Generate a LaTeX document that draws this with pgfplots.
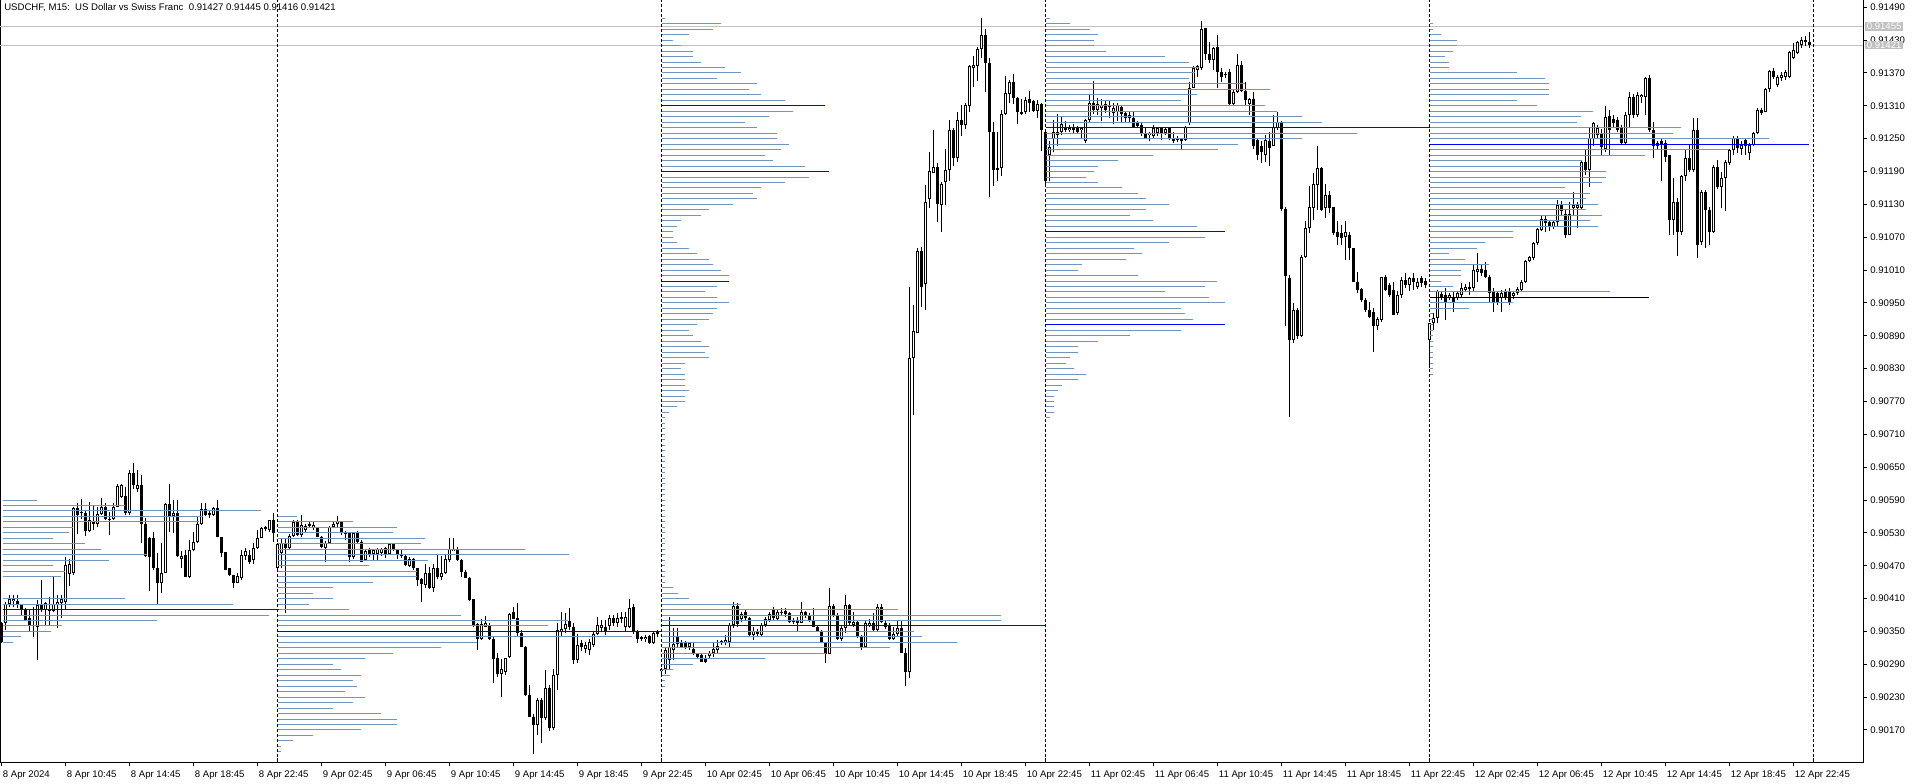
\documentclass[border=0pt]{standalone}
\usepackage{pgfplots}
\pgfplotsset{compat=1.18}
\usepackage{pgfplotstable}
\usepackage{fontspec}
\setmainfont{Liberation Sans}
\definecolor{vp}{RGB}{112,148,192}
\definecolor{gl}{RGB}{192,192,192}

\pgfplotstableread{
i O H L C
0 90365 90368 90328 90331
1 90365 90404 90353 90400
2 90400 90417 90395 90409
3 90406 90417 90395 90409
4 90406 90417 90392 90398
5 90398 90401 90380 90390
6 90390 90392 90371 90371
7 90374 90389 90350 90360
8 90360 90395 90340 90362
9 90359 90407 90298 90398
10 90398 90444 90386 90390
11 90389 90404 90360 90402
12 90389 90413 90362 90388
13 90388 90450 90386 90400
14 90400 90417 90356 90404
15 90402 90417 90374 90410
16 90404 90486 90389 90471
17 90455 90483 90433 90474
18 90456 90578 90453 90575
19 90575 90584 90528 90563
20 90569 90591 90556 90566
21 90566 90572 90525 90534
22 90534 90587 90532 90553
23 90552 90581 90535 90547
24 90547 90578 90541 90564
25 90564 90593 90563 90578
26 90577 90584 90553 90555
27 90556 90569 90526 90553
28 90555 90584 90553 90577
29 90577 90619 90577 90615
30 90596 90620 90593 90617
31 90597 90614 90562 90566
32 90566 90645 90562 90640
33 90640 90658 90611 90617
34 90611 90645 90605 90617
35 90617 90636 90511 90547
36 90547 90558 90486 90488
37 90520 90523 90424 90486
38 90520 90532 90462 90465
39 90465 90494 90401 90438
40 90438 90511 90420 90457
41 90457 90584 90456 90582
42 90582 90619 90532 90561
43 90561 90590 90530 90567
44 90567 90590 90486 90488
45 90482 90497 90465 90488
46 90489 90499 90449 90450
47 90450 90517 90447 90499
48 90499 90532 90496 90514
49 90514 90560 90512 90546
50 90546 90585 90544 90573
51 90573 90585 90560 90563
52 90567 90572 90557 90563
53 90563 90578 90560 90575
54 90575 90590 90522 90523
55 90523 90523 90486 90494
56 90495 90495 90462 90463
57 90465 90465 90451 90453
58 90453 90453 90429 90439
59 90439 90456 90439 90451
60 90447 90499 90444 90489
61 90488 90502 90480 90496
62 90490 90499 90473 90477
63 90480 90511 90474 90502
64 90502 90535 90500 90520
65 90520 90541 90520 90539
66 90541 90542 90534 90537
67 90535 90553 90532 90553
68 90553 90566 90514 90529
69 90466 90511 90462 90509
70 90493 90520 90465 90511
71 90511 90520 90384 90502
72 90502 90528 90499 90524
73 90524 90553 90523 90550
74 90550 90553 90524 90526
75 90526 90563 90523 90544
76 90535 90547 90532 90542
77 90547 90551 90541 90542
78 90538 90550 90535 90544
79 90538 90541 90522 90523
80 90523 90524 90502 90505
81 90503 90515 90477 90511
82 90511 90542 90510 90541
83 90541 90550 90538 90546
84 90546 90560 90541 90551
85 90551 90552 90526 90529
86 90532 90533 90517 90528
87 90530 90532 90476 90486
88 90486 90532 90483 90530
89 90530 90533 90510 90514
90 90514 90517 90476 90477
91 90480 90499 90479 90497
92 90499 90502 90486 90490
93 90491 90501 90480 90499
94 90491 90502 90480 90500
95 90493 90503 90488 90501
96 90502 90504 90485 90491
97 90491 90511 90490 90510
98 90510 90511 90497 90500
99 90500 90501 90482 90491
100 90492 90499 90485 90488
101 90488 90490 90469 90471
102 90470 90486 90468 90483
103 90483 90485 90463 90465
104 90465 90466 90433 90444
105 90445 90447 90404 90436
106 90435 90474 90429 90456
107 90456 90468 90427 90429
108 90430 90474 90422 90465
109 90465 90489 90446 90449
110 90449 90488 90444 90456
111 90456 90489 90455 90483
112 90480 90520 90477 90500
113 90497 90520 90496 90500
114 90500 90504 90479 90480
115 90480 90482 90450 90459
116 90459 90462 90447 90447
117 90447 90449 90406 90407
118 90409 90410 90359 90360
119 90363 90365 90316 90336
120 90336 90372 90334 90363
121 90359 90378 90359 90366
122 90360 90365 90334 90336
123 90337 90339 90255 90299
124 90301 90311 90267 90273
125 90273 90299 90231 90281
126 90276 90302 90270 90301
127 90303 90383 90301 90381
128 90385 90395 90372 90373
129 90374 90402 90340 90347
130 90347 90353 90321 90322
131 90322 90323 90232 90234
132 90233 90252 90193 90194
133 90194 90200 90127 90179
134 90179 90228 90161 90225
135 90225 90228 90146 90191
136 90191 90280 90188 90246
137 90246 90252 90169 90173
138 90173 90281 90170 90270
139 90270 90365 90243 90353
140 90349 90386 90340 90354
141 90354 90383 90347 90363
142 90369 90392 90353 90359
143 90359 90365 90291 90298
144 90298 90346 90292 90326
145 90328 90335 90315 90322
146 90317 90330 90310 90325
147 90316 90337 90307 90331
148 90326 90349 90322 90346
149 90346 90377 90343 90362
150 90356 90370 90350 90362
151 90359 90371 90343 90351
152 90360 90380 90352 90374
153 90374 90380 90360 90365
154 90365 90383 90359 90374
155 90376 90385 90365 90372
156 90359 90386 90350 90377
157 90359 90410 90356 90392
158 90395 90401 90346 90350
159 90350 90353 90328 90337
160 90339 90342 90333 90336
161 90337 90343 90331 90340
162 90341 90343 90327 90328
163 90328 90350 90327 90348
164 90350 90352 90340 90346
165 90277 90283 90273 90281
166 90281 90319 90273 90316
167 90298 90377 90281 90322
168 90316 90356 90298 90327
169 90339 90356 90322 90327
170 90331 90334 90319 90322
171 90329 90333 90318 90322
172 90322 90331 90316 90328
173 90317 90331 90307 90309
174 90309 90311 90301 90304
175 90307 90311 90295 90295
176 90302 90307 90292 90295
177 90305 90314 90301 90311
178 90310 90331 90304 90317
179 90316 90334 90310 90323
180 90332 90335 90325 90329
181 90329 90343 90325 90334
182 90331 90365 90322 90362
183 90362 90404 90356 90397
184 90397 90402 90359 90363
185 90372 90386 90368 90382
186 90386 90390 90370 90374
187 90374 90376 90340 90344
188 90344 90359 90334 90351
189 90351 90355 90342 90346
190 90344 90366 90340 90362
191 90362 90377 90359 90372
192 90371 90386 90368 90382
193 90390 90395 90371 90374
194 90372 90389 90371 90386
195 90386 90392 90378 90383
196 90388 90392 90377 90382
197 90383 90386 90365 90368
198 90371 90374 90364 90367
199 90371 90377 90350 90365
200 90365 90404 90365 90385
201 90385 90388 90375 90378
202 90380 90383 90368 90371
203 90371 90392 90359 90359
204 90359 90361 90349 90351
205 90350 90353 90328 90329
206 90329 90331 90292 90309
207 90309 90429 90309 90396
208 90396 90400 90376 90380
209 90380 90383 90334 90337
210 90337 90360 90333 90356
211 90356 90416 90347 90398
212 90398 90401 90362 90365
213 90362 90386 90359 90368
214 90368 90371 90338 90340
215 90340 90343 90316 90319
216 90321 90371 90319 90365
217 90362 90372 90358 90365
218 90365 90383 90350 90353
219 90353 90400 90350 90395
220 90395 90400 90365 90368
221 90365 90370 90355 90359
222 90362 90365 90334 90337
223 90337 90359 90334 90346
224 90346 90371 90340 90356
225 90356 90371 90310 90311
226 90311 90319 90250 90276
227 90276 90980 90265 90849
228 90849 90947 90745 90898
229 90895 91050 90895 91045
230 91045 91053 90943 90980
231 90984 91165 90937 91134
232 91139 91226 91123 91191
233 91187 91266 91187 91198
234 91198 91205 91098 91131
235 91129 91171 91080 91168
236 91170 91231 91128 91193
237 91192 91284 91173 91266
238 91266 91269 91201 91215
239 91215 91298 91208 91284
240 91284 91311 91254 91275
241 91275 91315 91268 91312
242 91310 91385 91299 91382
243 91380 91401 91345 91385
244 91383 91418 91355 91414
245 91414 91471 91397 91439
246 91439 91450 91335 91389
247 91389 91397 91144 91262
248 91262 91281 91164 91192
249 91196 91262 91173 91193
250 91196 91302 91182 91295
251 91295 91365 91293 91333
252 91332 91358 91315 91354
253 91354 91369 91313 91324
254 91324 91327 91276 91298
255 91298 91322 91293 91295
256 91298 91327 91295 91320
257 91322 91337 91299 91316
258 91318 91321 91298 91301
259 91301 91321 91288 91313
260 91313 91315 91227 91266
261 91262 91266 91162 91172
262 91220 91245 91172 91234
263 91250 91284 91225 91262
264 91262 91295 91236 91256
265 91263 91290 91256 91276
266 91270 91282 91262 91266
267 91266 91275 91262 91270
268 91270 91276 91260 91266
269 91269 91273 91258 91263
270 91266 91272 91251 91270
271 91246 91286 91243 91284
272 91284 91330 91281 91315
273 91315 91355 91295 91302
274 91302 91324 91293 91313
275 91306 91323 91282 91312
276 91313 91321 91296 91302
277 91311 91319 91287 91307
278 91296 91316 91276 91306
279 91298 91315 91282 91312
280 91307 91312 91281 91295
281 91296 91301 91281 91288
282 91288 91298 91278 91293
283 91288 91299 91269 91272
284 91280 91282 91269 91274
285 91275 91278 91254 91258
286 91260 91269 91250 91252
287 91257 91262 91245 91260
288 91254 91275 91250 91270
289 91260 91272 91255 91269
290 91270 91270 91248 91260
291 91260 91272 91256 91268
292 91269 91270 91248 91251
293 91252 91263 91242 91245
294 91251 91254 91244 91248
295 91252 91252 91229 91246
296 91248 91273 91246 91272
297 91278 91354 91275 91343
298 91343 91382 91342 91379
299 91376 91385 91363 91382
300 91379 91465 91376 91450
301 91452 91453 91394 91404
302 91404 91427 91388 91394
303 91394 91418 91376 91415
304 91418 91439 91342 91372
305 91372 91380 91354 91363
306 91369 91372 91360 91366
307 91372 91378 91312 91313
308 91313 91339 91309 91336
309 91336 91404 91333 91385
310 91385 91391 91336 91337
311 91337 91354 91312 91321
312 91313 91325 91293 91323
313 91323 91336 91232 91236
314 91248 91250 91211 91220
315 91236 91245 91205 91226
316 91220 91257 91208 91248
317 91245 91263 91201 91233
318 91236 91293 91236 91272
319 91269 91298 91266 91281
320 91281 91282 91117 91122
321 91122 91125 90907 91000
322 90995 91001 90741 90882
323 90882 90949 90876 90937
324 90937 90940 90885 90889
325 90890 91038 90888 91033
326 91033 91099 91032 91086
327 91086 91163 91077 91125
328 91123 91187 91102 91167
329 91165 91236 91120 91196
330 91196 91199 91117 91120
331 91123 91167 91105 91148
332 91148 91155 91115 91123
333 91126 91126 91074 91077
334 91079 91099 91056 91071
335 91077 91092 91056 91069
336 91071 91099 91029 91080
337 91074 91080 91029 91050
338 91050 91050 90989 90989
339 90989 91007 90968 90974
340 90976 90977 90952 90956
341 90956 90959 90934 90937
342 90937 90952 90922 90925
343 90934 90940 90861 90907
344 90907 90925 90900 90921
345 90919 90998 90916 90998
346 90998 91001 90971 90974
347 90983 90987 90960 90965
348 90974 90989 90928 90928
349 90931 90971 90928 90965
350 90965 90998 90959 90992
351 90992 91004 90977 90983
352 90983 90998 90971 90995
353 90995 91004 90974 90989
354 90980 90995 90975 90989
355 90995 91000 90980 90986
356 90990 90996 90978 90983
357 90882 90913 90831 90913
358 90913 90931 90901 90922
359 90922 90974 90913 90971
360 90966 90971 90955 90959
361 90965 90977 90919 90952
362 90959 90968 90955 90965
363 90959 90971 90934 90951
364 90959 90972 90955 90968
365 90965 90986 90959 90977
366 90974 90984 90970 90980
367 90980 90989 90965 90976
368 90977 91022 90971 91010
369 91007 91041 90989 91012
370 91012 91020 91000 91004
371 91010 91025 90995 90998
372 90998 91001 90952 90968
373 90970 90977 90934 90952
374 90968 90972 90946 90951
375 90959 90974 90934 90968
376 90971 90975 90955 90959
377 90971 90977 90946 90951
378 90962 90972 90958 90968
379 90968 90980 90965 90976
380 90974 90992 90971 90989
381 90989 91029 90986 91027
382 91027 91035 91024 91033
383 91032 91062 91029 91059
384 91059 91086 91056 91085
385 91083 91108 91081 91103
386 91103 91111 91079 91096
387 91097 91100 91081 91088
388 91089 91102 91085 91098
389 91097 91138 91089 91129
390 91129 91136 91108 91117
391 91112 91120 91068 91074
392 91074 91135 91074 91112
393 91124 91153 91111 91128
394 91123 91135 91086 91128
395 91123 91211 91120 91208
396 91208 91232 91184 91193
397 91193 91269 91162 91251
398 91249 91281 91236 91278
399 91257 91275 91252 91269
400 91258 91268 91219 91234
401 91232 91309 91226 91290
402 91292 91302 91220 91266
403 91286 91293 91272 91278
404 91284 91290 91262 91266
405 91269 91275 91239 91242
406 91242 91299 91239 91293
407 91293 91336 91269 91327
408 91327 91332 91288 91293
409 91293 91336 91290 91330
410 91327 91331 91315 91330
411 91327 91363 91293 91360
412 91360 91366 91263 91266
413 91266 91281 91214 91236
414 91236 91246 91232 91242
415 91245 91251 91172 91239
416 91242 91248 91208 91217
417 91220 91220 91074 91102
418 91102 91178 91074 91135
419 91135 91141 91035 91080
420 91080 91184 91074 91181
421 91181 91232 91172 91214
422 91214 91239 91190 91193
423 91193 91287 91190 91266
424 91266 91287 91032 91056
425 91062 91156 91056 91153
426 91153 91156 91050 91120
427 91120 91126 91056 91080
428 91080 91202 91077 91199
429 91199 91211 91159 91162
430 91162 91190 91123 91178
431 91178 91211 91117 91208
432 91205 91232 91202 91229
433 91229 91254 91220 91252
434 91251 91254 91223 91233
435 91231 91245 91220 91239
436 91248 91251 91220 91236
437 91223 91242 91211 91239
438 91239 91263 91236 91260
439 91260 91306 91258 91302
440 91302 91306 91293 91296
441 91299 91342 91298 91341
442 91341 91376 91336 91374
443 91374 91379 91359 91363
444 91348 91366 91345 91362
445 91360 91371 91356 91366
446 91363 91376 91357 91372
447 91363 91410 91360 91409
448 91397 91424 91396 91412
449 91406 91428 91404 91427
450 91421 91435 91416 91430
451 91430 91438 91420 91427
452 91427 91445 91416 91421
}\candles

\pgfplotstableread{
p len
90590 34
90580 122
90570 258
90560 200
90550 196
90540 70
90530 66
90520 50
90510 82
90500 98
90490 144
90480 106
90470 50
90460 62
90450 58
90410 122
90400 230
90380 266
90370 154
90360 59
90350 48
90340 18
90330 10
}\dayA

\pgfplotstableread{
p len
90560 19
90550 75
90540 119
90530 115
90520 147
90510 143
90500 247
90490 291
90480 150
90470 91
90460 139
90450 139
90440 95
90430 55
90420 35
90410 55
90400 31
90390 71
90380 183
90370 290
90360 270
90340 354
90330 199
90320 163
90310 115
90300 87
90290 55
90280 63
90270 83
90260 75
90250 79
90240 67
90230 87
90220 75
90210 55
90200 103
90190 119
90180 119
90170 83
90160 35
90150 15
90140 3
90130 3
}\dayB

\pgfplotstableread{
p len
91470 3
91460 59
91450 51
91440 27
91430 11
91420 19
91410 31
91400 31
91390 39
91380 63
91370 79
91360 55
91350 95
91340 87
91330 99
91320 123
91300 131
91290 107
91280 83
91270 95
91260 115
91250 115
91240 127
91230 119
91220 103
91210 111
91200 143
91180 147
91170 123
91160 99
91150 91
91140 95
91130 71
91120 47
91110 39
91100 19
91090 15
91080 11
91070 11
91060 15
91050 27
91040 35
91030 47
91020 51
91010 59
91000 67
90980 55
90970 43
90960 55
90950 67
90940 55
90930 51
90920 47
90910 35
90900 27
90890 31
90880 39
90870 47
90860 43
90850 47
90840 23
90830 19
90820 23
90810 23
90800 23
90790 27
90780 23
90770 23
90760 15
90750 7
90740 3
90730 3
90720 3
90710 3
90700 3
90690 3
90680 3
90670 3
90660 3
90650 3
90640 3
90630 3
90620 3
90610 3
90600 3
90590 3
90580 3
90570 3
90560 3
90550 3
90540 3
90530 3
90520 3
90510 3
90500 3
90490 3
90480 3
90470 3
90460 3
90450 3
90440 3
90430 11
90420 16
90410 27
90400 79
90390 236
90380 339
90370 339
90350 252
90340 260
90330 295
90320 228
90310 164
90300 103
90290 31
90280 11
90270 8
90260 3
90250 3
}\dayC

\pgfplotstableread{
p len
91470 4
91460 24
91450 44
91440 52
91430 48
91420 48
91410 60
91400 119
91390 143
91380 153
91370 149
91360 143
91350 199
91340 224
91330 151
91320 135
91310 219
91300 231
91290 256
91280 276
91260 311
91250 256
91240 192
91230 172
91220 107
91210 72
91200 52
91190 48
91180 40
91170 52
91160 76
91150 92
91140 100
91130 123
91120 100
91110 84
91100 107
91090 151
91070 159
91060 123
91050 88
91040 96
91030 80
91020 36
91010 32
91000 92
90990 171
90980 159
90970 119
90960 163
90950 179
90940 135
90930 139
90920 147
90900 135
90890 84
90880 52
90870 32
90860 32
90850 24
90840 20
90830 28
90820 40
90810 32
90800 16
90790 12
90780 8
90770 8
90760 8
90750 8
90740 4
}\dayD

\pgfplotstableread{
p len
91460 3.5
91450 3.5
91440 11
91430 27
91420 27
91410 23
91400 15
91390 19
91380 19
91370 87
91360 115
91350 119
91340 119
91330 119
91320 87
91310 107
91300 163
91290 151
91280 147
91270 251
91260 243
91250 339
91230 299
91220 215
91210 152
91200 152
91190 176
91180 176
91170 172
91160 135
91150 160
91140 156
91130 168
91120 156
91110 172
91100 160
91090 168
91080 83
91070 83
91060 55
91050 47
91040 19
91030 35
91020 59
91010 31
91000 31
90990 11
90980 23
90970 180
90950 83
90940 39
90930 3.5
90920 3.5
90910 3.5
90900 3.5
90890 3.5
90880 3.5
90870 3.5
90860 3.5
90850 3.5
90840 3.5
90830 3.5
90820 3.5
}\dayE

\pgfplotstableread{
x p len
0.2 90390 276
69 90350 383
165 91310 163
165 91190 167
165 90990 67
165 90360 384
261 91270 384.5
261 91080 179
261 90910 179
357 91240 379.5
}\poc

\pgfplotstableread{
x p len
357 90960 219
}\blk

\begin{document}
\begin{tikzpicture}
\useasboundingbox (0,-15.75pt) rectangle (1437pt,571.5pt);
\begin{axis}[
  at={(0,0)}, anchor=south west,
  scale only axis, width=1397.25pt, height=571.5pt,
  xmin=-0.45, xmax=465.3, ymin=90111.5, ymax=91503.3,
  clip mode=individual,
  axis line style={line width=0.75pt, black},
  font=\fontsize{7.2}{8.6}\selectfont,
  xtick={0,16,...,448},
  xticklabels={8 Apr 2024, 8 Apr 10:45, 8 Apr 14:45, 8 Apr 18:45, 8 Apr 22:45, 9 Apr 02:45, 9 Apr 06:45, 9 Apr 10:45, 9 Apr 14:45, 9 Apr 18:45, 9 Apr 22:45, 10 Apr 02:45, 10 Apr 06:45, 10 Apr 10:45, 10 Apr 14:45, 10 Apr 18:45, 10 Apr 22:45, 11 Apr 02:45, 11 Apr 06:45, 11 Apr 10:45, 11 Apr 14:45, 11 Apr 18:45, 11 Apr 22:45, 12 Apr 02:45, 12 Apr 06:45, 12 Apr 10:45, 12 Apr 14:45, 12 Apr 18:45, 12 Apr 22:45},
  ytick={90170,90230,90290,90350,90410,90470,90530,90590,90650,90710,90770,90830,90890,90950,91010,91070,91130,91190,91250,91310,91370,91430,91490},
  yticklabels={0.90170,0.90230,0.90290,0.90350,0.90410,0.90470,0.90530,0.90590,0.90650,0.90710,0.90770,0.90830,0.90890,0.90950,0.91010,0.91070,0.91130,0.91190,0.91250,0.91310,0.91370,0.91430,0.91490},
  xtick pos=left, ytick pos=right,
  xticklabel pos=left, yticklabel pos=right,
  tick align=outside,
  major tick length=3pt,
  tick style={black, line width=0.75pt},
  xticklabel shift=0pt, yticklabel shift=0pt,
  x tick label style={anchor=base west, inner sep=0pt, xshift=0.6pt, yshift=-8.6pt},
  y tick label style={anchor=west, inner sep=0pt, xshift=2.3pt},
  extra x ticks={69,165,261,357,453},
  extra x tick labels={},
  extra x tick style={tick align=inside, major tick length=3pt},
]
% gray price lines
\addplot[gl, line width=0.75pt, mark=none] coordinates {(-0.45,91455) (465.3,91455)};
\addplot[gl, line width=0.75pt, mark=none] coordinates {(-0.45,91421) (465.3,91421)};
% day separators
\addplot[black, line width=0.75pt, dash pattern=on 2.25pt off 1.5pt, mark=none] coordinates {(69,90111.5) (69,91503.3)};
\addplot[black, line width=0.75pt, dash pattern=on 2.25pt off 1.5pt, mark=none] coordinates {(165,90111.5) (165,91503.3)};
\addplot[black, line width=0.75pt, dash pattern=on 2.25pt off 1.5pt, mark=none] coordinates {(261,90111.5) (261,91503.3)};
\addplot[black, line width=0.75pt, dash pattern=on 2.25pt off 1.5pt, mark=none] coordinates {(357,90111.5) (357,91503.3)};
\addplot[black, line width=0.75pt, dash pattern=on 2.25pt off 1.5pt, mark=none] coordinates {(453,90111.5) (453,91503.3)};
% candles
\addplot[black, line width=0.75pt, mark=none, -, quiver={u=0, v=\thisrow{H}-\thisrow{L}}] table[x=i, y=L] {\candles};
\addplot[black, line width=2.25pt, mark=none, -, quiver={u=0, v=\thisrow{C}-\thisrow{O}}] table[x=i, y=O] {\candles};
\addplot[white, line width=0.75pt, mark=none, -, unbounded coords=discard,
  x filter/.expression={\thisrow{C}-\thisrow{O}>2.5 ? x : nan},
  quiver={u=0, v=\thisrow{C}-\thisrow{O}, every arrow/.append style={shorten <=0.75pt, shorten >=0.75pt}}] table[x=i, y=O] {\candles};
% volume profiles
\addplot[vp, line width=0.75pt, mark=none, -, quiver={u=\thisrow{len}/4, v=0}] table[x expr=0.2, y=p] {\dayA};
\addplot[vp, line width=0.75pt, mark=none, -, quiver={u=\thisrow{len}/4, v=0}] table[x expr=69, y=p] {\dayB};
\addplot[vp, line width=0.75pt, mark=none, -, quiver={u=\thisrow{len}/4, v=0}] table[x expr=165, y=p] {\dayC};
\addplot[vp, line width=0.75pt, mark=none, -, quiver={u=\thisrow{len}/4, v=0}] table[x expr=261, y=p] {\dayD};
\addplot[vp, line width=0.75pt, mark=none, -, quiver={u=\thisrow{len}/4, v=0}] table[x expr=357, y=p] {\dayE};
\addplot[blue, line width=0.75pt, mark=none, -, quiver={u=\thisrow{len}/4, v=0}] table[x=x, y=p] {\poc};
\addplot[black, line width=0.75pt, mark=none, -, quiver={u=\thisrow{len}/4, v=0}] table[x=x, y=p] {\blk};
% labels
\node[anchor=base west, inner sep=0pt, font=\fontsize{7.2}{8.6}\selectfont] at ([xshift=3pt, yshift=-7.8pt]rel axis cs:0,1) {USDCHF, M15:\ \ US Dollar vs Swiss Franc\ \ 0.91427 0.91445 0.91416 0.91421};
\node[anchor=west, fill=gl, text=white, inner xsep=1pt, inner ysep=0.6pt, font=\fontsize{7.2}{8.6}\selectfont] at ([xshift=1.6pt]axis cs:465.3,91455) {0.91455};
\node[anchor=west, fill=gl, text=white, inner xsep=1pt, inner ysep=0.6pt, font=\fontsize{7.2}{8.6}\selectfont] at ([xshift=1.6pt]axis cs:465.3,91421) {0.91421};
\end{axis}
\end{tikzpicture}
\end{document}
